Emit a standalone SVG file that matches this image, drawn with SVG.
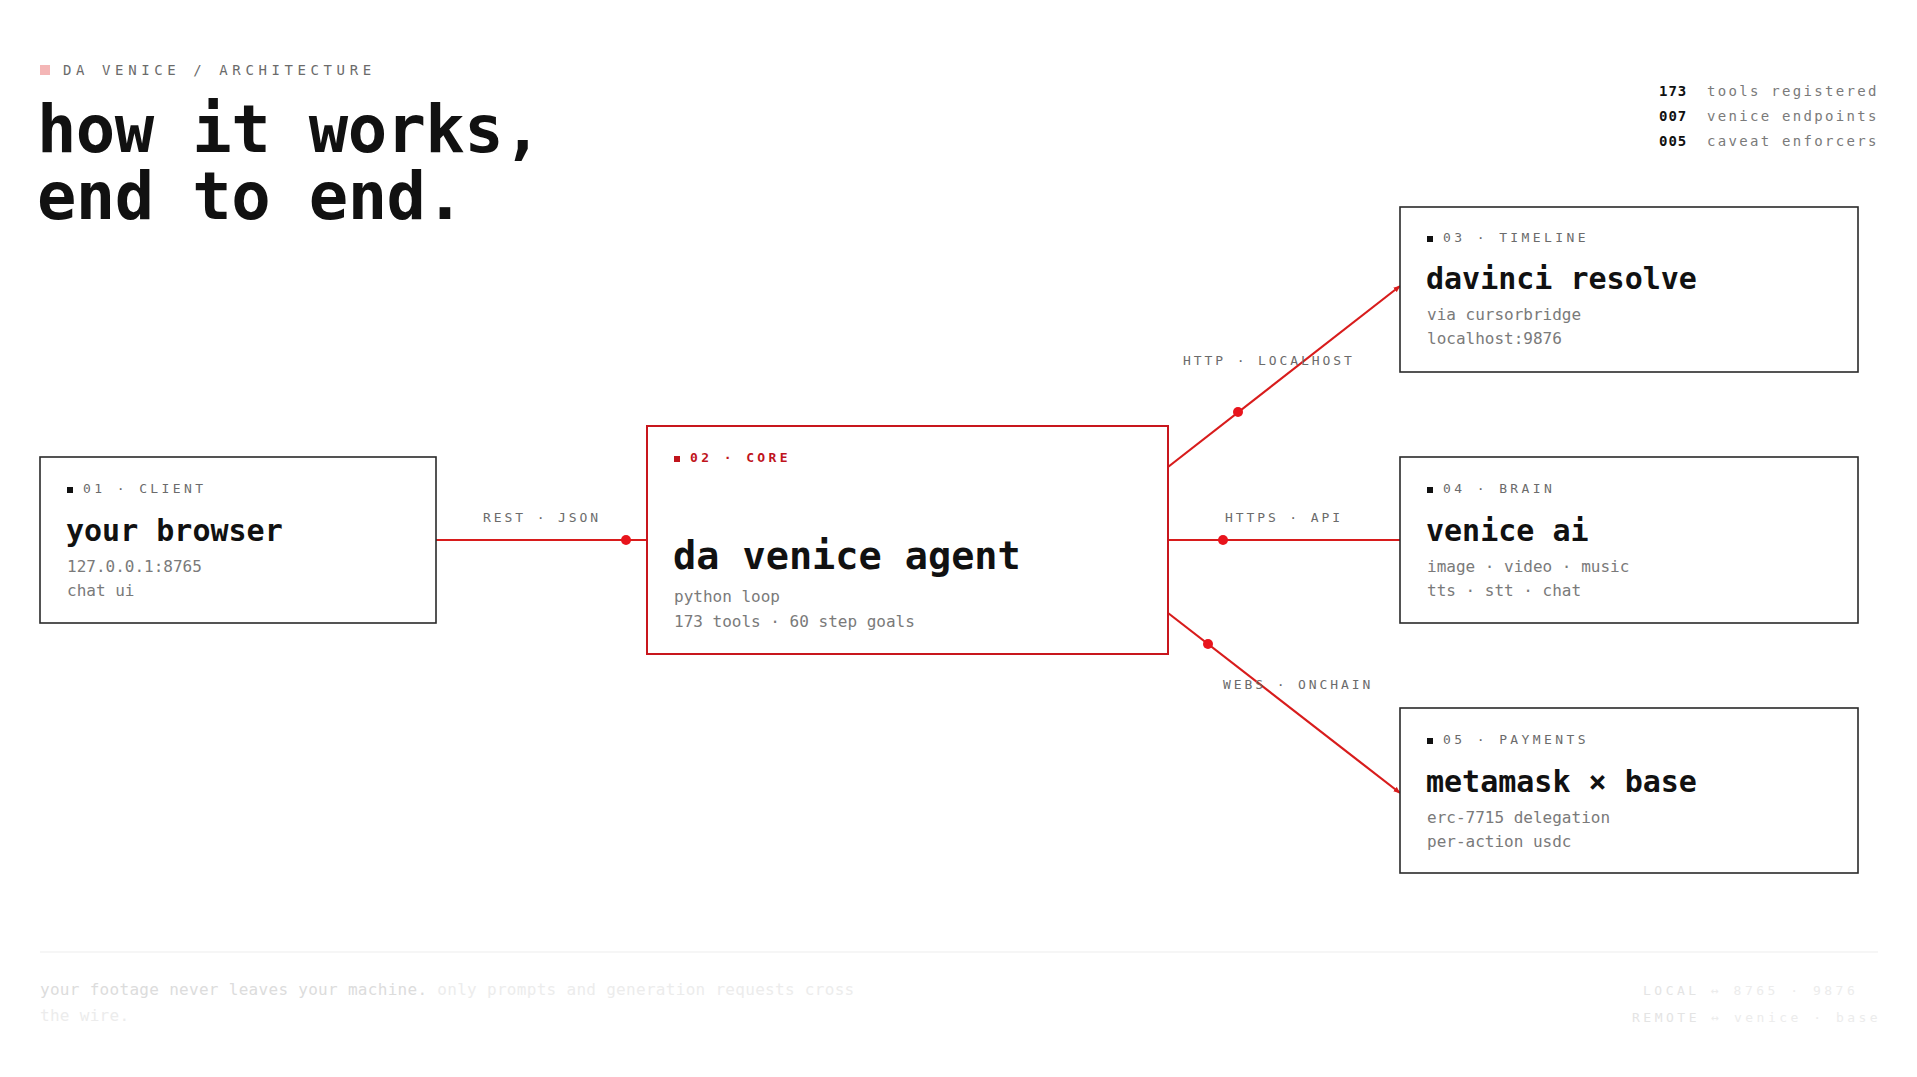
<svg xmlns="http://www.w3.org/2000/svg" width="1917" height="1077" viewBox="0 0 1917 1077">
<defs>
<style>
text{font-family:"DejaVu Sans Mono","Liberation Mono",monospace;}
.box{fill:#fff;stroke:#2a2a2a;stroke-width:1.6;}
.core{fill:#fff;stroke:#c8161d;stroke-width:2;}
.tag{font-size:13px;letter-spacing:3.4px;fill:#6b6b6b;}
.tagc{font-size:13px;letter-spacing:3.4px;fill:#c0141c;font-weight:bold;}
.ttl{font-size:30px;font-weight:bold;fill:#111;}
.sub{font-size:16px;fill:#7a7a7a;}
.conn{stroke:#d81c1c;stroke-width:2.2;fill:none;}
.dot{fill:#e8141c;}
.clab{font-size:13px;letter-spacing:2.9px;fill:#6b6b6b;}
.stat{font-size:14px;letter-spacing:2.3px;fill:#7a7a7a;}
.statn{font-size:14px;letter-spacing:1px;fill:#111;font-weight:bold;}
.big{font-size:65.5px;font-weight:bold;letter-spacing:-0.6px;fill:#111;}
</style>
<marker id="arr" viewBox="0 0 10 10" refX="9" refY="5" markerWidth="3.2" markerHeight="3.2" orient="auto" markerUnits="strokeWidth">
<path d="M0,1 L10,5 L0,9 z" fill="#d81c1c"/>
</marker>
</defs>
<rect width="1917" height="1077" fill="#fff"/>

<g id="header">
<rect x="40" y="65" width="10" height="10" fill="#f4b6b6"/>
<text x="63" y="75" style="font-size:14px;letter-spacing:4.6px;fill:#6b6b6b">DA VENICE / ARCHITECTURE</text>
<text class="big"><tspan x="37" y="152">how it works,</tspan><tspan x="37" y="219">end to end.</tspan></text>
</g>

<g id="stats">
<text x="1659" y="96"><tspan class="statn">173</tspan><tspan class="stat" x="1707">tools registered</tspan></text>
<text x="1659" y="121"><tspan class="statn">007</tspan><tspan class="stat" x="1707">venice endpoints</tspan></text>
<text x="1659" y="146"><tspan class="statn">005</tspan><tspan class="stat" x="1707">caveat enforcers</tspan></text>
</g>

<g id="connectors">
<line class="conn" x1="436" y1="540" x2="647" y2="540"/>
<circle class="dot" cx="626" cy="540" r="5"/>
<text class="clab" x="483" y="522">REST · JSON</text>

<line class="conn" x1="1168" y1="467" x2="1400" y2="286" marker-end="url(#arr)"/>
<circle class="dot" cx="1238" cy="412" r="5"/>
<text class="clab" x="1183" y="365">HTTP · LOCALHOST</text>

<line class="conn" x1="1168" y1="540" x2="1400" y2="540"/>
<circle class="dot" cx="1223" cy="540" r="5"/>
<text class="clab" x="1225" y="522">HTTPS · API</text>

<line class="conn" x1="1168" y1="613" x2="1400" y2="793" marker-end="url(#arr)"/>
<circle class="dot" cx="1208" cy="644" r="5"/>
<text class="clab" x="1223" y="689">WEBS · ONCHAIN</text>
</g>

<g id="node-client">
<rect class="box" x="40" y="457" width="396" height="166"/>
<rect x="67" y="487" width="6" height="6" fill="#111"/>
<text class="tag" x="83" y="493">01 · CLIENT</text>
<text class="ttl" x="66" y="541">your browser</text>
<text class="sub" x="67" y="572">127.0.0.1:8765</text>
<text class="sub" x="67" y="596">chat ui</text>
</g>

<g id="node-core">
<rect class="core" x="647" y="426" width="521" height="228"/>
<rect x="674" y="456" width="6" height="6" fill="#c0141c"/>
<text class="tagc" x="690" y="462">02 · CORE</text>
<text x="673" y="569" style="font-size:38.5px;font-weight:bold;fill:#111">da venice agent</text>
<text class="sub" x="674" y="602">python loop</text>
<text class="sub" x="674" y="627">173 tools · 60 step goals</text>
</g>

<g id="node-timeline">
<rect class="box" x="1400" y="207" width="458" height="165"/>
<rect x="1427" y="236" width="6" height="6" fill="#111"/>
<text class="tag" x="1443" y="242">03 · TIMELINE</text>
<text class="ttl" x="1426" y="289">davinci resolve</text>
<text class="sub" x="1427" y="320">via cursorbridge</text>
<text class="sub" x="1427" y="344">localhost:9876</text>
</g>

<g id="node-brain">
<rect class="box" x="1400" y="457" width="458" height="166"/>
<rect x="1427" y="487" width="6" height="6" fill="#111"/>
<text class="tag" x="1443" y="493">04 · BRAIN</text>
<text class="ttl" x="1426" y="541">venice ai</text>
<text class="sub" x="1427" y="572">image · video · music</text>
<text class="sub" x="1427" y="596">tts · stt · chat</text>
</g>

<g id="node-payments">
<rect class="box" x="1400" y="708" width="458" height="165"/>
<rect x="1427" y="738" width="6" height="6" fill="#111"/>
<text class="tag" x="1443" y="744">05 · PAYMENTS</text>
<text class="ttl" x="1426" y="792">metamask × base</text>
<text class="sub" x="1427" y="823">erc-7715 delegation</text>
<text class="sub" x="1427" y="847">per-action usdc</text>
</g>

<g id="footer">
<line x1="40" y1="952" x2="1878" y2="952" stroke="#f3f3f3" stroke-width="1.5"/>
<text x="40" y="995" style="font-size:16px;letter-spacing:0.3px"><tspan fill="#dcdcdc">your footage never leaves your machine.</tspan><tspan fill="#ececec"> only prompts and generation requests cross</tspan></text>
<text x="40" y="1021" style="font-size:16px;letter-spacing:0.3px;fill:#ececec">the wire.</text>
<text x="1643" y="995" style="font-size:13px;letter-spacing:3.5px"><tspan fill="#e4e4e4">LOCAL</tspan><tspan fill="#ececec"> ↔ 8765 · 9876</tspan></text>
<text x="1632" y="1022" style="font-size:13px;letter-spacing:3.5px"><tspan fill="#e4e4e4">REMOTE</tspan><tspan fill="#ececec"> ↔ venice · base</tspan></text>
</g>
</svg>
